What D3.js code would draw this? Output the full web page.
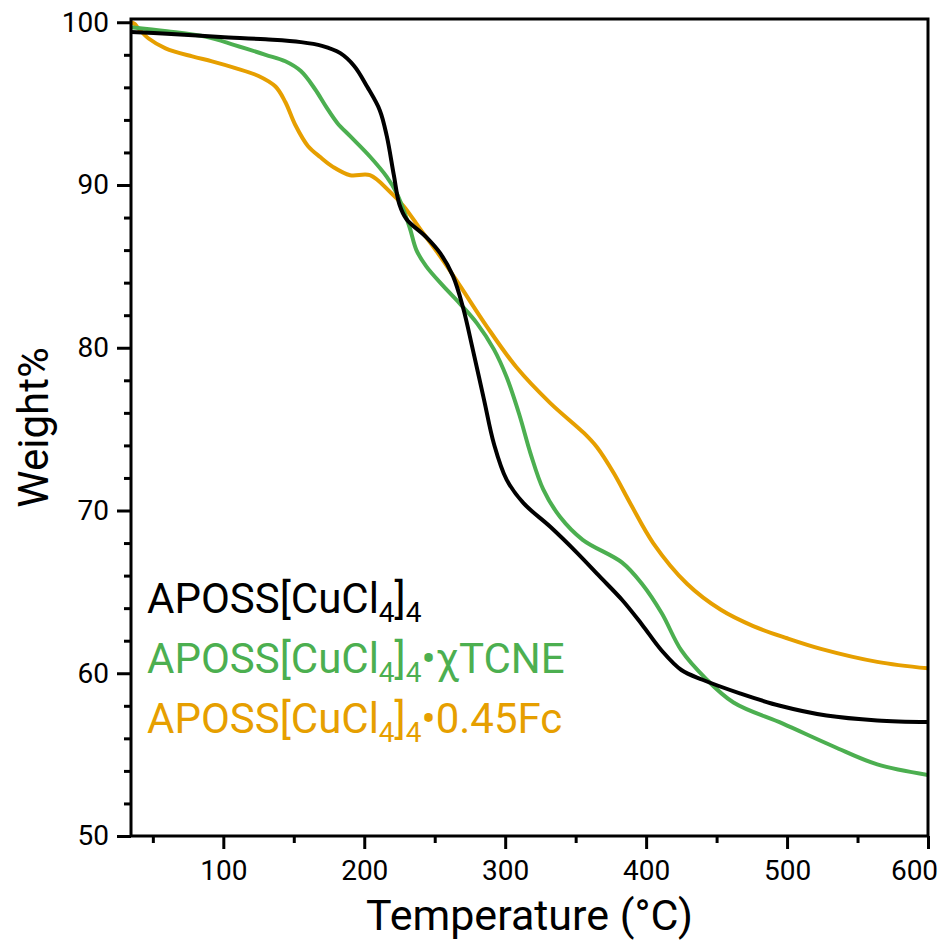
<!DOCTYPE html>
<html>
<head>
<meta charset="utf-8">
<script src="https://cdn.jsdelivr.net/npm/d3@7"></script>
<style>
body{margin:0;background:#fff;}
svg{display:block;font-family:Roboto,"Open Sans",sans-serif;}
</style>
</head>
<body>
<svg id="chart" width="943" height="941"></svg>
<script>
// series data: temperature (°C) / weight %
var blackT=[34.5,60,98,130,155,170,183,193,202,211,216,221,225,230,244,254,263,270,277,285,292,301,313,332,351,367,383,397,411,425,440,467,495,528,564,600];
var blackW=[99.4,99.3,99.1,98.95,98.78,98.55,98.1,97.3,96.05,94.6,93.0,90.6,88.8,87.9,86.8,85.8,84.4,82.5,79.9,76.8,74.1,71.9,70.45,69.0,67.4,65.95,64.5,63.0,61.4,60.2,59.6,58.75,58.0,57.4,57.1,57.0];

var greenT=[34.5,60,88,108,130,144,155,165,173,181,190,204,216,223,232,237,244,256,268,280,292,301,310,318,327,339,355,383,397,411,425,442,462,497,533,564,600];
var greenW=[99.7,99.45,99.1,98.6,98.0,97.6,97.0,95.9,94.8,93.8,93.0,91.75,90.5,89.5,87.45,86.0,85.0,83.8,82.7,81.5,79.9,78.2,75.9,73.5,71.3,69.6,68.2,66.8,65.5,63.7,61.4,59.7,58.2,56.9,55.5,54.4,53.75];

var orangeT=[35,37,40,47,59,78,92,108,125,137,144,151,160,169,178,190,204,218,228,240,254,268,287,308,332,356,365,377,389,405,429,453,476,500,524,564,600];
var orangeW=[100,99.9,99.6,99.0,98.4,97.9,97.6,97.2,96.7,96.05,95.1,93.7,92.4,91.7,91.1,90.6,90.6,89.6,88.7,87.25,85.6,83.8,81.3,78.8,76.6,74.75,73.9,72.3,70.4,68.0,65.5,63.9,62.9,62.15,61.5,60.7,60.3];

var xTicks=[100,200,300,400,500,600];
var yTicks=[50,60,70,80,90,100];

var colors={black:'#000000',green:'#4caf50',orange:'#e69f00'};

var svg=d3.select('#chart');
var mLeft=131,mRight=928,mTop=19,mBottom=836;

var x=d3.scaleLinear().domain([34.5,600]).range([mLeft,mRight]);
var y=d3.scaleLinear().domain([50,100.2]).range([mBottom,mTop]);

// minor ticks
var xMinor=d3.range(50,600,100);
var yMinor=d3.range(50,100,2).filter(function(v){return v%10!=0;});

svg.append('g').attr('transform','translate(0,'+mBottom+')')
  .call(d3.axisBottom(x).tickValues(xMinor).tickSize(7).tickFormat(''))
  .call(function(g){g.select('.domain').remove();g.selectAll('line').attr('stroke-width',3);});
svg.append('g').attr('transform','translate('+mLeft+',0)')
  .call(d3.axisLeft(y).tickValues(yMinor).tickSize(7).tickFormat(''))
  .call(function(g){g.select('.domain').remove();g.selectAll('line').attr('stroke-width',3);});

var xAxis=svg.append('g').attr('transform','translate(0,'+mBottom+')')
  .call(d3.axisBottom(x).tickValues(xTicks).tickSize(13).tickPadding(11));
xAxis.select('.domain').remove();
xAxis.selectAll('line').attr('stroke-width',3);
xAxis.selectAll('text').attr('font-size',28).attr('font-family','Roboto').attr('fill','#000');
// last label pulled in so it stays on the page
xAxis.selectAll('.tick').filter(function(d){return d==600;}).select('text').attr('dx',-14);

var yAxis=svg.append('g').attr('transform','translate('+mLeft+',0)')
  .call(d3.axisLeft(y).tickValues(yTicks).tickSize(14).tickPadding(8));
yAxis.select('.domain').remove();
yAxis.selectAll('line').attr('stroke-width',3);
yAxis.selectAll('text').attr('font-size',28).attr('font-family','Roboto').attr('fill','#000');

// curves
var line=d3.line().x(function(d){return x(d[0]);}).y(function(d){return y(d[1]);}).curve(d3.curveCatmullRom.alpha(0.5));
var plot=svg.append('g');
plot.append('defs').append('clipPath').attr('id','clip').append('rect')
  .attr('x',mLeft).attr('y',mTop).attr('width',mRight-mLeft).attr('height',mBottom-mTop);

function draw(T,W,c){
  plot.append('path').datum(d3.zip(T,W)).attr('d',line)
    .attr('fill','none').attr('stroke',c).attr('stroke-width',4)
    .attr('stroke-linejoin','round').attr('clip-path','url(#clip)');
}
draw(orangeT,orangeW,colors.orange);
draw(greenT,greenW,colors.green);
draw(blackT,blackW,colors.black);

// frame
svg.append('rect').attr('x',mLeft).attr('y',mTop).attr('width',mRight-mLeft).attr('height',mBottom-mTop)
  .attr('fill','none').attr('stroke','#000').attr('stroke-width',3);

// titles
svg.append('text').attr('x',(mLeft+mRight)/2).attr('y',930).attr('text-anchor','middle')
  .attr('font-size',43).text('Temperature (°C)');
svg.append('text').attr('transform','translate(48,'+((mTop+mBottom)/2)+') rotate(-90)')
  .attr('text-anchor','middle').attr('font-size',42).text('Weight%');

// legend
var legend=[
  {c:colors.black,tail:''},
  {c:colors.green,tail:'•χTCNE'},
  {c:colors.orange,tail:'•0.45Fc'}
];
legend.forEach(function(l,i){
  var t=svg.append('text').attr('x',147).attr('y',613+i*60).attr('font-size',42).attr('fill',l.c);
  t.append('tspan').text('APOSS[CuCl');
  t.append('tspan').attr('dy',9).attr('font-size',28).text('4');
  t.append('tspan').attr('dy',-9).text(']');
  t.append('tspan').attr('dy',9).attr('font-size',28).text('4');
  if(l.tail) t.append('tspan').attr('dy',-9).text(l.tail);
});
</script>
</body>
</html>
